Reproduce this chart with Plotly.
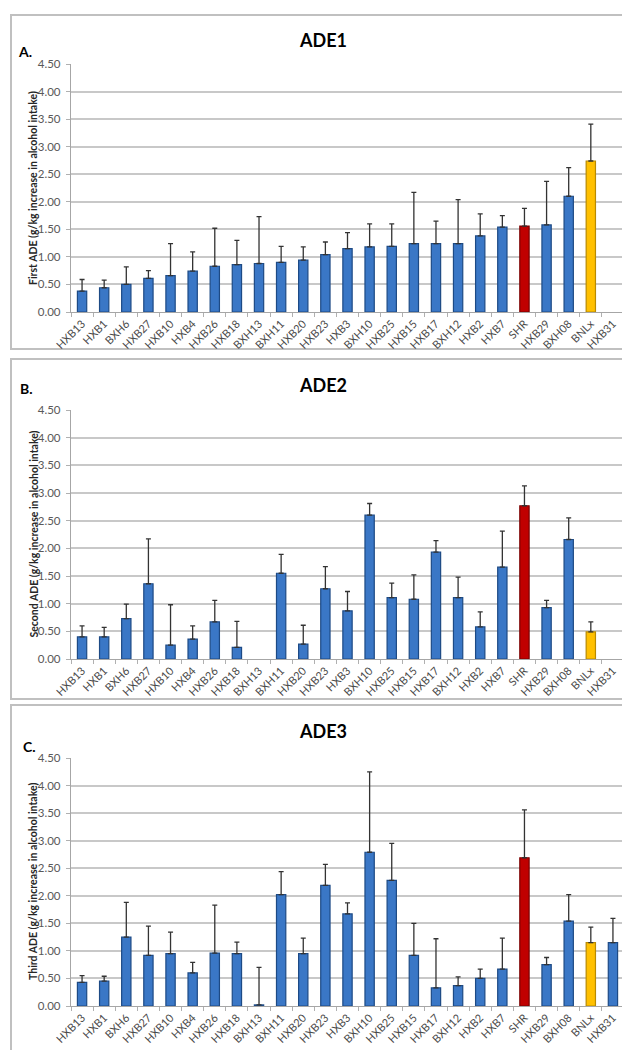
import plotly.graph_objects as go

strains = ["HXB13", "HXB1", "BXH6", "HXB27", "HXB10", "HXB4", "HXB26", "HXB18", "BXH13",
           "BXH11", "HXB20", "HXB23", "HXB3", "BXH10", "HXB25", "HXB15", "HXB17", "BXH12",
           "HXB2", "HXB7", "SHR", "HXB29", "BXH08", "BNLx", "HXB31"]

ade1_mean = [0.38, 0.44, 0.50, 0.61, 0.66, 0.74, 0.83, 0.86, 0.88, 0.90, 0.94, 1.04, 1.15,
             1.18, 1.19, 1.24, 1.24, 1.24, 1.38, 1.54, 1.56, 1.58, 2.10, 2.74, None]
ade1_sem = [0.21, 0.14, 0.32, 0.14, 0.58, 0.35, 0.69, 0.44, 0.85, 0.29, 0.24, 0.23, 0.29,
            0.42, 0.41, 0.93, 0.41, 0.80, 0.40, 0.21, 0.32, 0.79, 0.52, 0.67, None]

ade2_mean = [0.40, 0.40, 0.73, 1.36, 0.25, 0.36, 0.67, 0.21, None, 1.55, 0.27, 1.27, 0.87,
             2.60, 1.11, 1.08, 1.93, 1.11, 0.58, 1.66, 2.77, 0.93, 2.16, 0.49, None]
ade2_sem = [0.20, 0.17, 0.26, 0.81, 0.73, 0.24, 0.39, 0.47, None, 0.34, 0.34, 0.40, 0.35,
            0.21, 0.26, 0.44, 0.21, 0.37, 0.27, 0.65, 0.36, 0.13, 0.39, 0.18, None]

ade3_mean = [0.43, 0.45, 1.25, 0.92, 0.95, 0.60, 0.96, 0.95, 0.02, 2.02, 0.95, 2.19, 1.67,
             2.79, 2.28, 0.92, 0.33, 0.37, 0.50, 0.67, 2.69, 0.75, 1.54, 1.15, 1.15]
ade3_sem = [0.12, 0.09, 0.63, 0.53, 0.39, 0.19, 0.87, 0.21, 0.68, 0.42, 0.28, 0.38, 0.20,
            1.46, 0.67, 0.58, 0.89, 0.16, 0.17, 0.56, 0.87, 0.13, 0.48, 0.28, 0.44]

panel_titles = ["ADE1", "ADE2", "ADE3"]
panel_letters = ["A.", "B.", "C."]
y_titles = ["First ADE (g/kg increase in alcohol intake)",
            "Second ADE (g/kg increase in alcohol intake)",
            "Third ADE (g/kg increase in alcohol intake)"]
y_ticks = [0, 0.5, 1.0, 1.5, 2.0, 2.5, 3.0, 3.5, 4.0, 4.5]

special_colors = {"SHR": "#c00000", "BNLx": "#ffc000"}
special_lines = {"SHR": "#7a0000", "BNLx": "#b88a00"}
BLUE = "#3a77c6"
BLUE_LINE = "#1d4a85"

W, H = 630, 1050
FONT = "Lato"

# pixel layout (top, bottom of plot area; panel box)
plot_px = [(56, 304), (402, 651), (750, 998)]
box_px = [(7, 341), (351, 691), (697, 1043)]
title_px = [32, 377, 723]
letter_px = [(17, 44), (18, 380), (21, 738)]
x_left, x_right = 63, 616

fig = go.Figure()
series = [(ade1_mean, ade1_sem), (ade2_mean, ade2_sem), (ade3_mean, ade3_sem)]
colors = [special_colors.get(s, BLUE) for s in strains]
lcolors = [special_lines.get(s, BLUE_LINE) for s in strains]

for i, (m, e) in enumerate(series):
    suffix = "" if i == 0 else str(i + 1)
    fig.add_trace(go.Bar(
        x=strains, y=m, width=0.42,
        marker=dict(color=colors, line=dict(color=lcolors, width=1.2)),
        error_y=dict(type="data", symmetric=False, array=e, arrayminus=[0] * len(e),
                     color="#333333", thickness=1.3, width=2.5),
        xaxis="x" + suffix, yaxis="y" + suffix, showlegend=False,
    ))

layout = dict(
    width=W, height=H, margin=dict(l=0, r=0, t=0, b=0),
    paper_bgcolor="white", plot_bgcolor="white",
    font=dict(family=FONT, color="#404040"),
    shapes=[], annotations=[],
)

for i in range(3):
    suffix = "" if i == 0 else str(i + 1)
    top, bot = plot_px[i]
    ydom = [1 - bot / H, 1 - top / H]
    layout["xaxis" + suffix] = dict(
        domain=[x_left / W, x_right / W], anchor="y" + suffix, type="category",
        categoryorder="array", categoryarray=strains,
        tickangle=-45, tickfont=dict(family=FONT, size=11, color="#4a4a4a"),
        showline=True, linecolor="#a6a6a6", linewidth=1.3,
        ticks="outside", tickson="boundaries", ticklen=4, tickcolor="#b0b0b0",
        showgrid=False, automargin=False, fixedrange=True,
    )
    layout["yaxis" + suffix] = dict(
        domain=ydom, anchor="x" + suffix, range=[0, 4.5],
        tickvals=y_ticks, tickformat=".2f",
        tickfont=dict(family=FONT, size=11.5, color="#595959"),
        showgrid=True, gridcolor="#c8c8c8", gridwidth=1.5,
        showline=True, linecolor="#a6a6a6", linewidth=1.3,
        ticks="outside", ticklen=4, tickcolor="#b0b0b0", ticklabelstandoff=3,
        zeroline=False, automargin=False, fixedrange=True,
    )
    b0, b1 = box_px[i]
    layout["shapes"].append(dict(
        type="rect", xref="paper", yref="paper",
        x0=3 / W, x1=627 / W, y0=1 - b1 / H, y1=1 - b0 / H,
        line=dict(color="#c0c0c0", width=2), fillcolor="rgba(0,0,0,0)", layer="below",
    ))
    layout["annotations"].append(dict(
        text="<b>" + panel_titles[i] + "</b>", xref="paper", yref="paper",
        x=315 / W, y=1 - title_px[i] / H, xanchor="center", yanchor="middle",
        showarrow=False, font=dict(family=FONT, size=18, color="#000000"),
    ))
    lx, ly = letter_px[i]
    layout["annotations"].append(dict(
        text="<b>" + panel_letters[i] + "</b>", xref="paper", yref="paper",
        x=lx / W, y=1 - ly / H, xanchor="center", yanchor="middle",
        showarrow=False, font=dict(family=FONT, size=14, color="#000000"),
    ))
    layout["annotations"].append(dict(
        text="<b>" + y_titles[i] + "</b>", xref="paper", yref="paper",
        x=25 / W, y=1 - (top + bot) / 2 / H, xanchor="center", yanchor="middle",
        textangle=-90, showarrow=False, font=dict(family=FONT, size=10.5, color="#262626"),
    ))

fig.update_layout(**layout)
fig.write_html("out.html")
